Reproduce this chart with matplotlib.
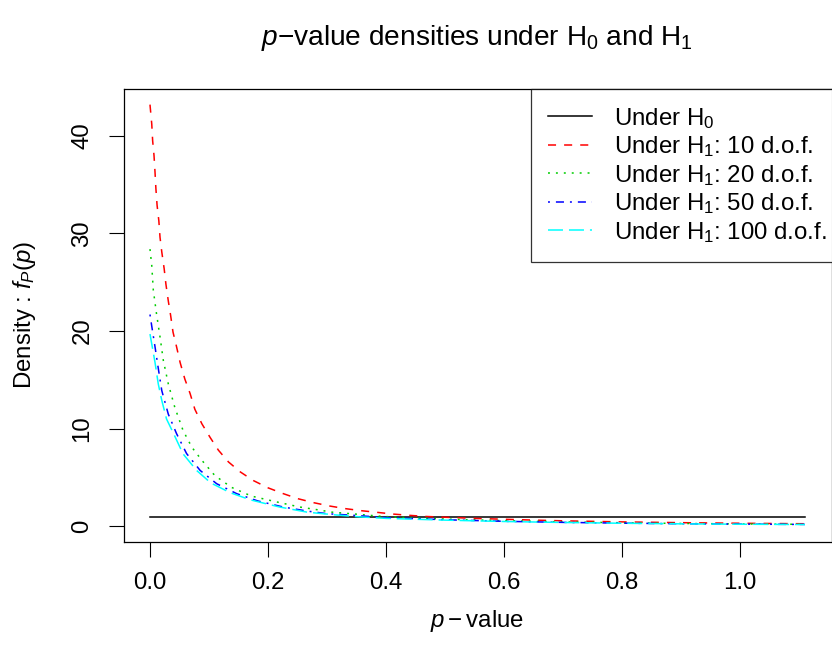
import matplotlib
matplotlib.use("Agg")
import matplotlib.pyplot as plt
import numpy as np

plt.rcParams['font.family'] = ['Liberation Sans', 'DejaVu Sans']
plt.rcParams['mathtext.fontset'] = 'custom'
plt.rcParams['mathtext.rm'] = 'Liberation Sans'
plt.rcParams['mathtext.it'] = 'Liberation Sans:italic'
plt.rcParams['mathtext.bf'] = 'Liberation Sans:bold'
plt.rcParams['lines.scale_dashes'] = False

# values
p_h0 = [0.0, 1.11]
d_h0 = [1.0, 1.0]

p_10 = [0, 0.003, 0.0045, 0.0068, 0.0085, 0.01, 0.012, 0.015, 0.017, 0.02, 0.024,
        0.027, 0.031, 0.035, 0.039, 0.045, 0.051, 0.059, 0.068, 0.076, 0.088, 0.102,
        0.116, 0.133, 0.153, 0.175, 0.2, 0.226, 0.251, 0.278, 0.305, 0.332, 0.359,
        0.386, 0.412, 0.44, 0.466, 0.494, 0.55, 0.6, 0.658, 0.7, 0.8, 0.9, 1.0, 1.11]
d_10 = [43.2, 41.2, 39.5, 38.0, 36.3, 34.6, 32.9, 31.3, 29.6, 28.1, 26.4,
        24.8, 23.1, 21.6, 19.9, 18.4, 16.8, 15.1, 13.6, 12.0, 10.5, 9.1,
        7.8, 6.6, 5.58, 4.7, 3.95, 3.35, 2.83, 2.42, 2.08, 1.81, 1.6,
        1.43, 1.26, 1.13, 1.02, 0.95, 0.82, 0.73, 0.63, 0.57, 0.46, 0.38, 0.32, 0.27]

p_20 = [0, 0.003, 0.0056, 0.011, 0.017, 0.0226, 0.031, 0.042, 0.056, 0.071, 0.088,
        0.11, 0.138, 0.172, 0.19, 0.215, 0.254, 0.283, 0.308, 0.35, 0.39, 0.418,
        0.5, 0.6, 0.7, 0.8, 0.9, 1.0, 1.11]
d_20 = [28.4, 26.7, 24.2, 21.8, 19.4, 17.0, 14.6, 12.2, 9.83, 8.1, 6.76,
        5.2, 4.0, 3.1, 2.85, 2.5, 1.98, 1.71, 1.46, 1.25, 1.04, 0.94,
        0.75, 0.58, 0.46, 0.37, 0.3, 0.25, 0.21]

p_50 = [0, 0.003, 0.0085, 0.014, 0.02, 0.031, 0.045, 0.062, 0.085, 0.113, 0.147,
        0.183, 0.226, 0.266, 0.3, 0.345, 0.4, 0.5, 0.6, 0.7, 0.8, 0.9, 1.0, 1.11]
d_50 = [21.7, 20.5, 18.4, 16.2, 13.9, 11.5, 9.5, 7.46, 5.73, 4.37, 3.35,
        2.6, 1.98, 1.57, 1.3, 1.13, 0.9, 0.68, 0.52, 0.41, 0.33, 0.27, 0.23, 0.2]

p_100 = [0, 0.0085, 0.014, 0.02, 0.028, 0.04, 0.056, 0.079, 0.103, 0.136, 0.17,
         0.198, 0.22, 0.266, 0.31, 0.356, 0.4, 0.5, 0.6, 0.7, 0.8, 0.9, 1.0, 1.11]
d_100 = [19.7, 16.8, 14.6, 12.9, 11.0, 9.5, 7.43, 5.73, 4.45, 3.45, 2.72,
         2.3, 1.98, 1.46, 1.2, 0.97, 0.82, 0.64, 0.5, 0.4, 0.32, 0.26, 0.22, 0.19]

labels = ['Under H$_0$', 'Under H$_1$: 10 d.o.f.', 'Under H$_1$: 20 d.o.f.',
          'Under H$_1$: 50 d.o.f.', 'Under H$_1$: 100 d.o.f.']
colors = ['black', '#FF0000', '#00CD00', '#0000FF', '#00FFFF']
styles = ['-', (0, (5.8, 5.8)), (0, (1.4, 4.3)), (0, (1.4, 4.3, 5.8, 4.3)), (0, (10.8, 4.3))]

fig = plt.figure(figsize=(8.32, 6.58), dpi=100)
ax = fig.add_axes([123.5 / 832, 116 / 658, 708 / 832, 453 / 658])

series = [(p_h0, d_h0), (p_10, d_10), (p_20, d_20), (p_50, d_50), (p_100, d_100)]
for (px, dy), lab, col, ls in zip(series, labels, colors, styles):
    ax.plot(px, dy, color=col, linestyle=ls, linewidth=1.1, label=lab)

ax.set_xlim(-0.0449, 1.155)
ax.set_ylim(-1.6, 44.8)
ax.set_xticks([0, 0.2, 0.4, 0.6, 0.8, 1.0])
ax.set_xticklabels(['0.0', '0.2', '0.4', '0.6', '0.8', '1.0'])
ax.set_yticks([0, 10, 20, 30, 40])
ax.set_yticklabels(['0', '10', '20', '30', '40'], rotation=90, va='center')
ax.tick_params(direction='out', length=10.6, width=0.8, labelsize=17.3, pad=11)
for s in ax.spines.values():
    s.set_linewidth(0.9)

# R puts the legend tight to the right edge; push the frame a bit past it
leg = ax.legend(loc='upper right', bbox_to_anchor=(1.0 + 12 / 708, 1.0), borderaxespad=0,
                fontsize=17.3, frameon=True, fancybox=False, edgecolor='black',
                handlelength=1.85, handletextpad=0.9, borderpad=0.7,
                labelspacing=0.15)
leg.get_frame().set_linewidth(0.9)
leg.set_clip_on(False)

fig.text(477 / 832, 1 - 45 / 658, r'$p$$-$value densities under H$_0$ and H$_1$',
         ha='center', va='baseline', fontsize=20.2)
fig.text(477 / 832, 1 - 627 / 658, r'$p - \mathrm{value}$',
         ha='center', va='baseline', fontsize=17.3)
fig.text(25 / 832, 1 - 315 / 658, r'Density : $f_P(p)$', rotation=90,
         ha='center', va='center', fontsize=17.3)

fig.savefig('out.png', dpi=100)
